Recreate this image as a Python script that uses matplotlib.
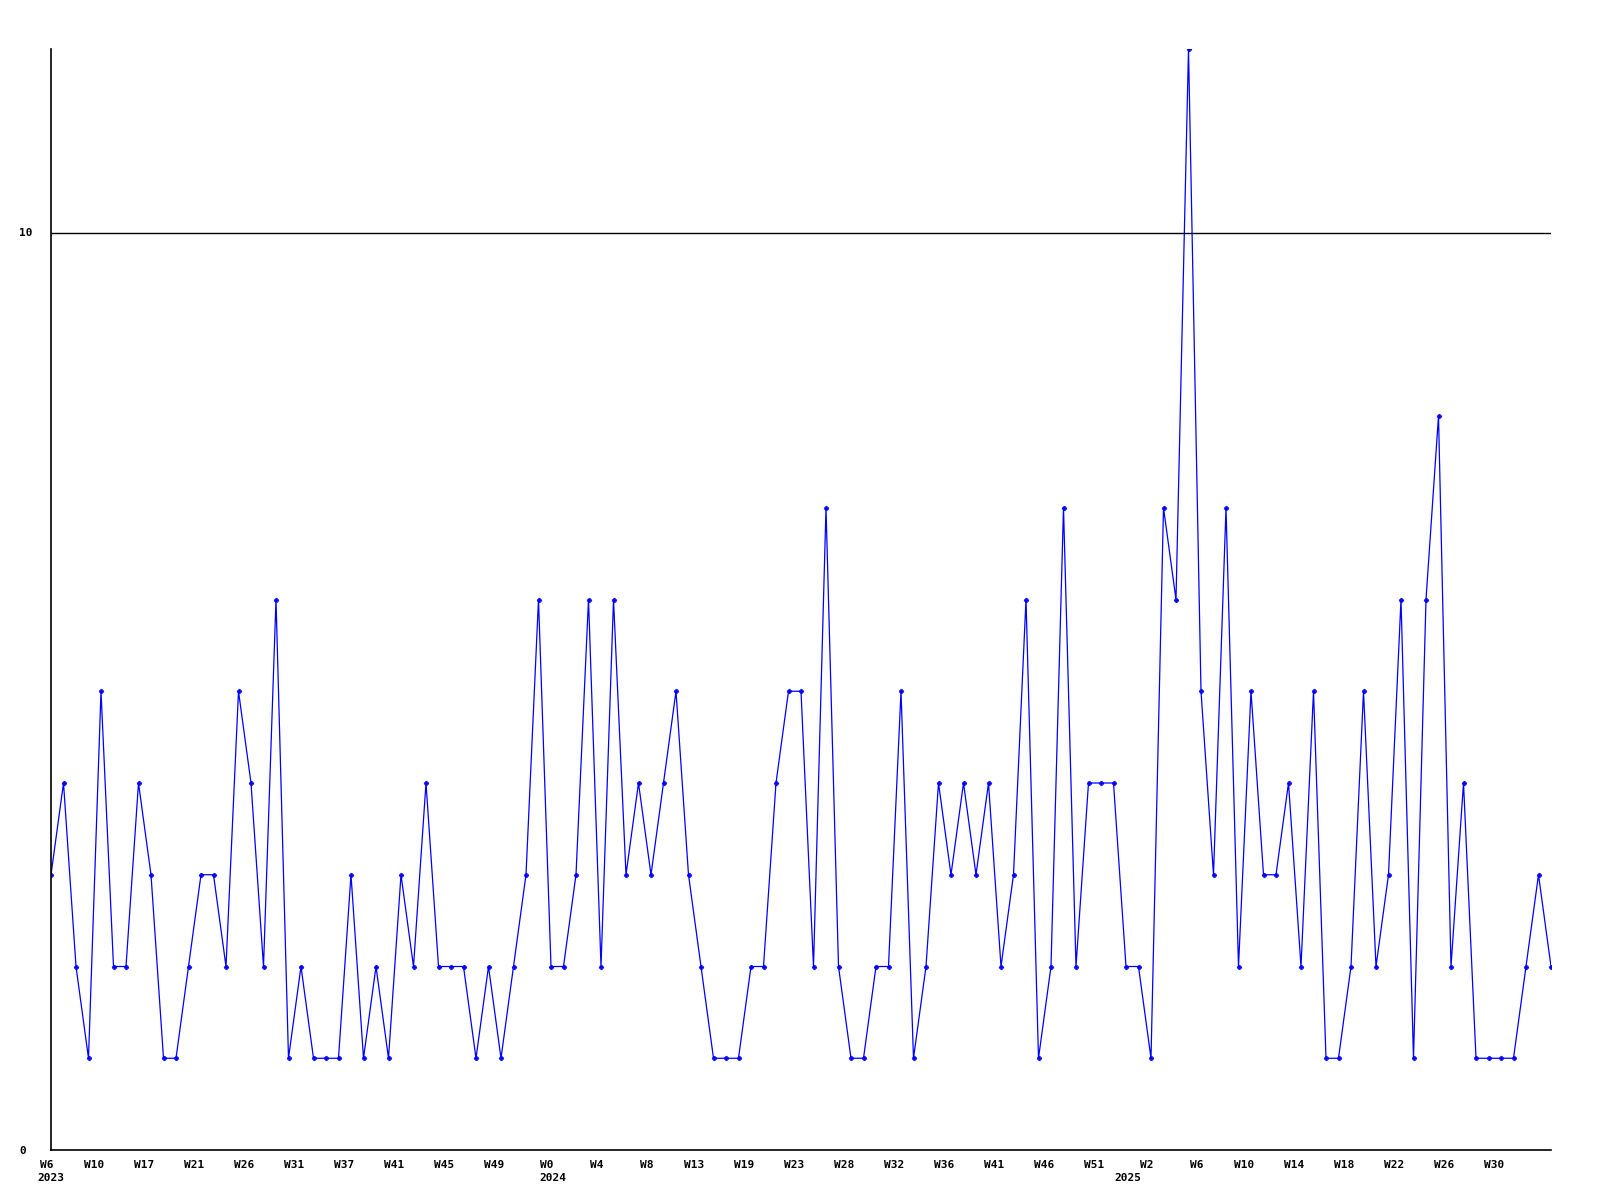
import numpy as np
import matplotlib
matplotlib.use("Agg")
import matplotlib.pyplot as plt
from matplotlib.transforms import ScaledTranslation

counts = [
    3, 4, 2, 1, 5, 2, 2, 4, 3, 1, 1, 2, 3, 3, 2, 5, 4, 2, 6, 1,
    2, 1, 1, 1, 3, 1, 2, 1, 3, 2, 4, 2, 2, 2, 1, 2, 1, 2, 3, 6,
    2, 2, 3, 6, 2, 6, 3, 4, 3, 4, 5, 3, 2, 1, 1, 1, 2, 2, 4, 5,
    5, 2, 7, 2, 1, 1, 2, 2, 5, 1, 2, 4, 3, 4, 3, 4, 2, 3, 6, 1,
    2, 7, 2, 4, 4, 4, 2, 2, 1, 7, 6, 12, 5, 3, 7, 2, 5, 3, 3, 4,
    2, 5, 1, 1, 2, 5, 2, 3, 6, 1, 6, 8, 2, 4, 1, 1, 1, 1, 2, 3,
    2,
]

week_labels = ["W6", "W10", "W17", "W21", "W26", "W31", "W37", "W41", "W45", "W49",
               "W0", "W4", "W8", "W13", "W19", "W23", "W28", "W32", "W36", "W41",
               "W46", "W51", "W2", "W6", "W10", "W14", "W18", "W22", "W26", "W30"]
years = ["2023", "2024", "2025"]
year_pos = [-1.1, 39.1, 85.1]

mono = "DejaVu Sans Mono"

fig = plt.figure(figsize=(16, 12), dpi=100)
ax = fig.add_axes([51 / 1600, 1 - 1150 / 1200, 1500 / 1600, 1101 / 1200])

x = np.arange(len(counts))
ax.plot(x, counts, color="#0000ff", linewidth=0.9, marker="P", markersize=3.3,
        markeredgewidth=0.4)

ax.set_xlim(0, len(counts) - 1)
ax.set_ylim(0, 12)
ax.axhline(10, color="black", linewidth=1)

for s in ["top", "right"]:
    ax.spines[s].set_visible(False)
for s in ["left", "bottom"]:
    ax.spines[s].set_linewidth(1.2)

ax.set_xticks(np.arange(len(week_labels)) * 4)
ax.set_xticklabels(week_labels, family=mono, fontweight="bold", fontsize=8, ha="right")
ax.tick_params(axis="x", length=0, pad=7)
shift = ScaledTranslation(3 / 100, 0, fig.dpi_scale_trans)
for lbl in ax.get_xticklabels():
    lbl.set_transform(lbl.get_transform() + shift)

ax.set_yticks([0, 10])
ax.set_yticklabels(["0", "10"], family=mono, fontweight="bold", fontsize=8, ha="left")
ax.tick_params(axis="y", length=0, pad=23)

for yr, xp in zip(years, year_pos):
    ax.text(xp, -0.25, yr, family=mono, fontweight="bold", fontsize=8,
            ha="left", va="top", transform=ax.transData)

fig.savefig("out.png", dpi=100)
